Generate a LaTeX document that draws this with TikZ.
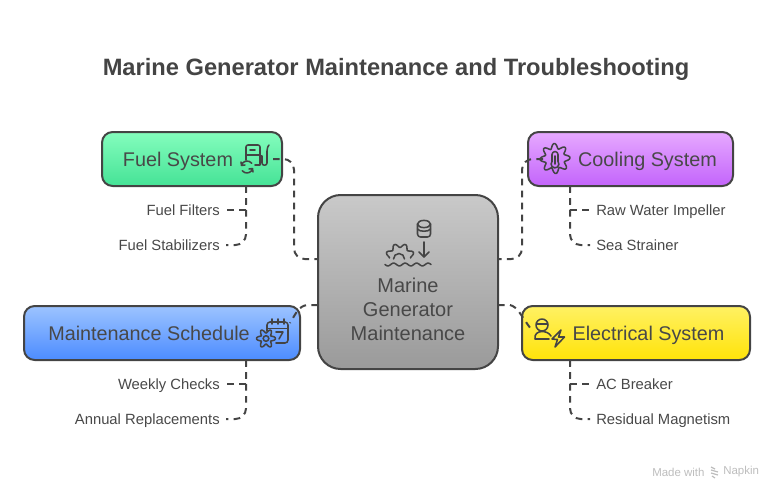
\documentclass[tikz,border=0pt]{standalone}
\usepackage{fontspec}
\setmainfont{Liberation Sans}
\usetikzlibrary{arrows.meta,calc}
\definecolor{ink}{HTML}{444444}
\definecolor{inkb}{HTML}{484848}
\def\PX{0.75pt}
\tikzset{
  x=0.75pt,y=-0.75pt,
  box/.style={draw=ink,line width=1.5pt,rounded corners=8pt,inner sep=0pt},
  fuelbox/.style={box,top color=fuelA,bottom color=fuelB,minimum width=180*\PX,minimum height=54*\PX},
  link/.style={draw=ink,line width=1.5pt,dash pattern=on 5pt off 4pt,rounded corners=8pt},
  sublink/.style={link},
  branch/.style={link,rounded corners=0pt},
  title/.style={text=ink,font=\fontsize{17.75}{22}\selectfont\bfseries,inner sep=0pt},
  boxlabel/.style={text=inkb,font=\fontsize{14.85}{18}\selectfont,inner sep=0pt,text height=10.7pt,text depth=0pt,anchor=center},
  leafR/.style={text=inkb,font=\fontsize{11.1}{13}\selectfont,inner ysep=0pt,inner xsep=4.5pt,text height=8pt,text depth=0pt,anchor=east},
  leafL/.style={text=inkb,font=\fontsize{11.1}{13}\selectfont,inner ysep=0pt,inner xsep=4.5pt,text height=8pt,text depth=0pt,anchor=west},
  icon/.style={draw=ink,line width=1.15pt,line cap=round,line join=round},
}
\definecolor{fuelA}{HTML}{84FDBD}\definecolor{fuelB}{HTML}{45E296}
\definecolor{coolA}{HTML}{E6A9FF}\definecolor{coolB}{HTML}{C364FB}
\definecolor{centA}{HTML}{C9C9C9}\definecolor{centB}{HTML}{9A9A9A}
\definecolor{mainA}{HTML}{9CC3FF}\definecolor{mainB}{HTML}{4C8CFF}
\definecolor{elecA}{HTML}{FFF163}\definecolor{elecB}{HTML}{FFE309}
\definecolor{wm}{HTML}{BDBDBD}
\begin{document}
\begin{tikzpicture}
\useasboundingbox (0,0) rectangle (774,490);
\node[title] (ttl) at (396,69) {Marine Generator Maintenance and Troubleshooting};

% boxes
\node[fuelbox] (fuel) at (192,159) {};
\node[box,top color=coolA,bottom color=coolB,minimum width=205*\PX,minimum height=54*\PX] (cool) at (630.5,159) {};
\node[box,top color=centA,bottom color=centB,minimum width=180*\PX,minimum height=174*\PX,rounded corners=17pt] (cent) at (408,282) {};
\node[box,top color=mainA,bottom color=mainB,minimum width=276*\PX,minimum height=54*\PX] (main) at (162,333) {};
\node[box,top color=elecA,bottom color=elecB,minimum width=228*\PX,minimum height=54*\PX] (elec) at (636,333) {};

% box labels
\node[boxlabel] (fuelT) at (178,159) {Fuel System};
\node[boxlabel] (coolT) at (647.5,159) {Cooling System};
\node[boxlabel] (mainT) at (149,333) {Maintenance Schedule};
\node[boxlabel] (elecT) at (648.5,333) {Electrical System};
\node[text=inkb,font=\fontsize{15}{18}\selectfont,align=center,inner sep=0pt] (centT) at (408,309) {Marine\\Generator\\Maintenance};

% leaves
\node[leafR] (l1) at (226,210) {Fuel Filters};
\node[leafR] (l2) at (226,245) {Fuel Stabilizers};
\node[leafL] (l3) at (590,210) {Raw Water Impeller};
\node[leafL] (l4) at (590,245) {Sea Strainer};
\node[leafR] (l5) at (226,384) {Weekly Checks};
\node[leafR] (l6) at (226,419) {Annual Replacements};
\node[leafL] (l7) at (590,384) {AC Breaker};
\node[leafL] (l8) at (590,419) {Residual Magnetism};

% connector ends
\coordinate (fuelS) at (246,186);
\coordinate (coolS) at (570,186);
\coordinate (mainS) at (246,360);
\coordinate (elecS) at (570,360);
\coordinate (fuelP) at (273,159);
\coordinate (coolP) at (543,159);
\coordinate (mainP) at (290,323);
\coordinate (elecP) at (531,329);
\coordinate (cNW) at (318,259);
\coordinate (cNE) at (498,259);
\coordinate (cSW) at (318,305);
\coordinate (cSE) at (498,305);
\coordinate (busA) at (294,210);
\coordinate (busB) at (522,210);

\draw[link] (fuelP) -| (busA) |- (cNW);
\draw[link] (coolP) -| (busB) |- (cNE);
\draw[link,rounded corners=0pt] (cSW) -- (307,305) .. controls (299,306) and (296,313) .. (mainP);
\draw[link,rounded corners=0pt] (cSE) -- (510,305) .. controls (518,307) and (521,316) .. (elecP);
\draw[branch] (fuelS) |- (l1.east);
\draw[sublink] (fuelS) |- (l2.east);
\draw[branch] (coolS) |- (l3.west);
\draw[sublink] (coolS) |- (l4.west);
\draw[branch] (mainS) |- (l5.east);
\draw[sublink] (mainS) |- (l6.east);
\draw[branch] (elecS) |- (l7.west);
\draw[sublink] (elecS) |- (l8.west);

% fuel icon
\draw[icon] (246,160) -- (246,147) arc[start angle=180,end angle=270,radius=2] -- (258,145) arc[start angle=270,end angle=360,radius=2] -- (260,165) -- (255,165);
\draw[icon] (246,155) -- (260,155) (250,150) -- (255,150);
\draw[icon] (260,156) -- (262,156) -- (262,163) .. controls (262,166) and (267,166) .. (267,163) -- (267,151) .. controls (267,148) and (268,146) .. (269,145);
\draw[icon] (241.5,165) arc[start angle=200,end angle=320,radius=6] (241,162) -- (241.5,165.5) -- (245,165);
\draw[icon] (252.5,169) arc[start angle=20,end angle=140,radius=6] (253,172) -- (252.5,168.5) -- (249,169);

% cooling icon
\draw[icon] plot[domain=0:360,samples=120] ({555+(12.5+2.5*cos(8*\x+22))*cos(\x)},{158.5+(12.5+2.5*cos(8*\x+22))*sin(\x)}) -- cycle;
\draw[icon] (552,161.5) -- (552,154.5) arc[start angle=180,end angle=360,radius=3] -- (558,161.5) arc[start angle=-40,end angle=220,radius=3.9];
\draw[icon] (555,156) -- (555,164);

% centre icon
\draw[icon] (417.5,224) -- (417.5,234) arc[start angle=180,end angle=90,radius=3] -- (427.5,237) arc[start angle=90,end angle=0,radius=3] -- (430.5,224);
\draw[icon] (424,224) ellipse[x radius=6.5,y radius=3.6];
\draw[icon] (417.5,229) .. controls (419,232) and (429,232) .. (430.5,229);
\draw[icon] (424,242) -- (424,257) (419,252) -- (424,257) -- (429,252);
\draw[icon] plot[domain=180:360,samples=70] ({400+(12.5+2*cos(8*\x+180))*cos(\x)},{258+(12.5+2*cos(8*\x+180))*sin(\x)});
\draw[icon] (393.5,259) arc[start angle=180,end angle=360,radius=5.5];
\draw[icon] plot[domain=385:431,samples=60] (\x,{264.5+1.4*sin(31.3*(\x-385))});

% maintenance icon
\draw[icon] (267,331) -- (267,325) arc[start angle=180,end angle=270,radius=3] -- (285,322) arc[start angle=270,end angle=360,radius=3] -- (288,340) arc[start angle=0,end angle=90,radius=3] -- (276,343);
\draw[icon] (267,328.5) -- (288,328.5) (272,319) -- (272,324) (278,319) -- (278,324) (284,319) -- (284,324);
\draw[icon] (276,332) -- (283,332) -- (279,339);
\draw[icon,fill=mainB!75!mainA] plot[domain=0:360,samples=100] ({266+(7.5+2*cos(6*\x))*cos(\x)},{338.5+(7.5+2*cos(6*\x))*sin(\x)}) -- cycle;
\draw[icon] (266,338.5) circle[radius=2.8];

% electrical icon
\draw[icon] (542,325) circle[radius=6];
\draw[icon] (536.5,324) -- (547.5,324);
\draw[icon] (535,339) .. controls (534,334) and (538,331.5) .. (542,331.5) .. controls (546,331.5) and (549,333) .. (551,336) (535,339) -- (549,339);
\draw[icon] (561,330) -- (552,339) -- (557.5,339.5) -- (555,347) -- (564.5,337) -- (558.5,337) -- cycle;

% watermark
\node[text=wm,font=\fontsize{8.6}{10}\selectfont,inner sep=0pt,anchor=west] (wa) at (652,472) {Made with};
\node[text=wm,font=\fontsize{8.6}{10}\selectfont,inner sep=0pt,anchor=west] (wb) at (723,472) {Napkin};
\draw[wm,line width=0.9pt] (711,467) -- (715,469) (711,470) -- (718,472) (711,473) -- (718,475) (712,476) -- (715,478);
\end{tikzpicture}
\end{document}
